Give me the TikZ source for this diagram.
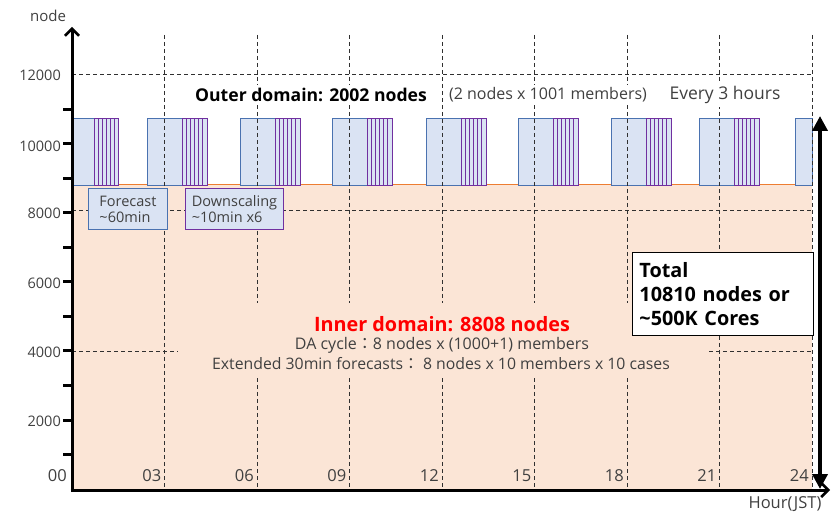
\documentclass[tikz,border=0pt]{standalone}
\usepackage{fontspec}
\setmainfont{Open Sans}
\newfontfamily\cjk{Noto Sans CJK JP}
\usetikzlibrary{arrows.meta}
\definecolor{peach}{HTML}{FBE5D6}
\definecolor{peachline}{HTML}{ED7D31}
\definecolor{fcfill}{HTML}{DAE3F3}
\definecolor{fcblue}{HTML}{4A72B0}
\definecolor{dsviolet}{HTML}{7030A0}
\definecolor{txtgrey}{HTML}{404040}
\definecolor{gridgrey}{HTML}{303030}
\tikzset{
  fc/.style={draw=fcblue, fill=fcfill, line width=0.9pt},
  ds/.style={draw=dsviolet, fill=fcfill, line width=0.7pt},
  grid/.style={draw=gridgrey, line width=1pt, dash pattern=on 4pt off 3pt},
  axis/.style={line width=3pt, -{Straight Barb[length=7pt,width=14pt,line width=2.5pt]}},
  tickmark/.style={line width=3pt},
  lbl/.style={text=txtgrey, font=\fontsize{14.5}{16}\selectfont, inner sep=0pt},
  hlbl/.style={text=txtgrey, font=\fontsize{16.5}{18}\selectfont, inner sep=0pt, anchor=east},
  smallbox/.style={fill=fcfill, line width=1pt, anchor=north west, minimum height=41pt, align=left, inner sep=0pt, inner xsep=6pt, text=txtgrey, font=\fontsize{14.5}{16}\selectfont},
  outertxt/.style={fill=white, inner sep=3pt, text=txtgrey},
}
\begin{document}
\begin{tikzpicture}[x=1pt,y=-1pt]
\useasboundingbox (0,0) rectangle (839,513);

% inner domain area
\fill[peach] (72,185) rectangle (812,490);
\draw[peachline, line width=1pt] (72,185) -- (812,185);

% outer domain runs: forecast block + six downscaling slices
\draw[fc] (73,118) rectangle (94,185);
\foreach \j in {0,...,5} \draw[ds] ({94+\j*4},118) rectangle ++(4,67);
\foreach \s in {147,240,332,426,518,611,699} {
  \draw[fc] (\s,118) rectangle ++(35,67);
  \foreach \j in {0,...,5} \draw[ds] ({\s+35+\j*25/6},118) rectangle ++(25/6,67);
}
\draw[fc] (795,118) rectangle (812,185);

% grid lines
\foreach \k in {1,...,8} \draw[grid] ({72+92.5*\k},35) -- ({72+92.5*\k},490);
\draw[grid] (72,75) -- (812,75);
\draw[grid] (72,211) -- (812,211);
\draw[grid] (72,352) -- (812,352);

% inner domain description
\fill[peach] (178,303) rectangle (708,378);
\node[text=red, font=\fontsize{19.8}{22}\selectfont\bfseries, inner sep=0pt] (inner) at (442,324) {Inner domain: 8808 nodes};
\node[text=txtgrey, font=\fontsize{16}{16}\selectfont, inner sep=0pt] (da) at (442,345) {DA cycle{\cjk ：}8 nodes x (1000+1) members};
\node[text=txtgrey, font=\fontsize{15.8}{16}\selectfont, inner sep=0pt] (ext) at (441,364) {Extended 30min forecasts{\cjk ：} 8 nodes x 10 members x 10 cases};

% outer domain description
\node[outertxt, text=black, font=\fontsize{17.6}{18}\selectfont\bfseries] (outer) at (311,95) {Outer domain: 2002 nodes};
\node[outertxt, font=\fontsize{16}{16}\selectfont] (members) at (548,95) {(2 nodes x 1001 members)};
\node[outertxt, font=\fontsize{17.5}{18}\selectfont] (every) at (725,95) {Every 3 hours};

% legend boxes
\node[smallbox, draw=fcblue, minimum width=79pt] (fcbox) at (88,188) {Forecast\\\textasciitilde60min};
\node[smallbox, draw=dsviolet, minimum width=98pt] (dsbox) at (185,188) {Downscaling\\\textasciitilde10min x6};

% total
\node[draw, fill=white, line width=0.9pt, anchor=north west, text width=167pt, align=left, inner sep=7pt, minimum height=83pt, font=\fontsize{19.8}{24}\selectfont\bfseries] (total) at (632,252) {Total\\10810 nodes or\\\textasciitilde500K Cores};

% axes
\coordinate (origin) at (72,490);
\coordinate (ytop) at (72,27);
\coordinate (xend) at (830,490);
\draw[axis] (origin) -- (ytop);
\draw[axis] ([xshift=-1.5pt]origin) -- (xend);
\foreach \v in {1,...,11} \draw[tickmark] (63,{489-34.5*\v}) -- (74,{489-34.5*\v});

% axis labels
\node[lbl, anchor=east] (y12) at (61,75) {12000};
\node[lbl, anchor=east] (y10) at (61,146) {10000};
\node[lbl, anchor=east] (y8) at (61,213) {8000};
\node[lbl, anchor=east] (y6) at (61,283) {6000};
\node[lbl, anchor=east] (y4) at (61,352) {4000};
\node[lbl, anchor=east] (y2) at (61,421) {2000};
\node[hlbl] (h00) at (67,476) {00};
\foreach \k/\t in {1/03,2/06,3/09,4/12,5/15,6/18,7/21,8/24}
  \node[hlbl] (h\t) at ({72+92.5*\k-3},476) {\t};
\node[text=txtgrey, font=\fontsize{15}{15}\selectfont, inner sep=0pt] (ylab) at (48,16) {node};
\node[text=txtgrey, font=\fontsize{16.5}{15}\selectfont, inner sep=0pt] (xlab) at (785,504) {Hour(JST)};

% total span arrow
\coordinate (spantop) at (820,116);
\coordinate (spanbot) at (820,489);
\draw[line width=4.5pt, {Triangle[length=15pt,width=15pt]}-{Triangle[length=15pt,width=15pt]}] (spanbot) -- (spantop);
\end{tikzpicture}
\end{document}
